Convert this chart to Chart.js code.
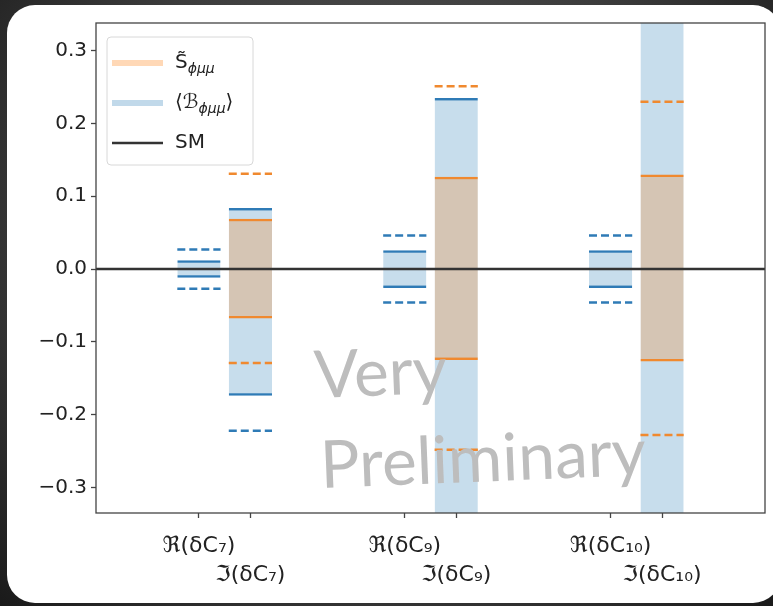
<!DOCTYPE html>
<html>
<head>
<meta charset="utf-8">
<script src="https://cdn.jsdelivr.net/npm/chart.js@4.4.1/dist/chart.umd.min.js"></script>
<style>
  html, body { margin: 0; padding: 0; }
  body {
    width: 773px; height: 606px; overflow: hidden; position: relative;
    background: radial-gradient(ellipse at 50% 40%, #5e5e5e 0%, #3c3c3c 60%, #1a1a1a 100%);
  }
  .card {
    position: absolute; left: 7px; top: 5px; width: 774px; height: 598px;
    background: #fff; border-radius: 28px;
  }
  .wrap { position: absolute; left: 0; top: 0; width: 773px; height: 606px; }
</style>
</head>
<body>
<div class="card"></div>
<div class="wrap"><canvas id="couplingChart"></canvas></div>
<script>
// real part sits on the integer, imaginary part a quarter to the right
const xTickPos = [0, 0.25, 1, 1.25, 2, 2.25];
const xTickLabels = ['ℜ(δC₇)', ['', 'ℑ(δC₇)'], 'ℜ(δC₉)', ['', 'ℑ(δC₉)'], 'ℜ(δC₁₀)', ['', 'ℑ(δC₁₀)']];
const yTicks = [-0.3, -0.2, -0.1, 0, 0.1, 0.2, 0.3];

// <B> : inner band edges and outer (dashed) edges per tick position
const bLow   = [-0.012, -0.174, -0.026, -0.45,  -0.026, -0.45];
const bHigh  = [ 0.012,  0.084,  0.026,  0.235,  0.026,  0.45];
const bLow2  = [-0.027, -0.222, -0.046,  null,  -0.046,  null];
const bHigh2 = [ 0.027,  null,   0.046,  null,   0.046,  null];

// S~ : only the imaginary parts
const sPos   = [0.25, 1.25, 2.25];
const sLow   = [-0.068, -0.125, -0.127];
const sHigh  = [ 0.069,  0.127,  0.130];
const sLow2  = [-0.129, -0.248, -0.228];
const sHigh2 = [ 0.131,  0.251,  0.230];

const smValue = 0;
const xRange = [-0.5, 2.75];
const yRange = [-0.335, 0.338];

const barWidth = 0.21;
const blue = '#2f7bb6', orange = '#f0892f';

function bandData(pos, lo, hi) {
  return pos.map((p, i) => ({ x: p, y: [lo[i], hi[i]] }));
}

// short horizontal dashes spanning one bar, separated by gaps
function dashSegments(pos, values) {
  const pts = [];
  pos.forEach((p, i) => {
    if (values[i] === null) return;
    pts.push({ x: p - barWidth / 2, y: values[i] }, { x: p + barWidth / 2, y: values[i] }, { x: p, y: null });
  });
  return pts;
}

const bandStyle = {
  grouped: false,
  barPercentage: barWidth / 0.25,
  categoryPercentage: 1,
  borderWidth: { top: 2.5, bottom: 2.5, left: 0, right: 0 },
  borderSkipped: false
};

const legendItems = [
  { pre: 'S\u0303', sub: 'ϕμμ', post: '', color: 'rgba(255,127,14,0.3)', lw: 6 },
  { pre: '⟨ℬ', sub: 'ϕμμ', post: '⟩', color: 'rgba(31,119,180,0.28)', lw: 6 },
  { pre: 'SM', sub: '', post: '', color: '#333', lw: 2.5 }
];

const mathLegend = {
  id: 'mathLegend',
  afterDraw(chart) {
    const ctx = chart.ctx, a = chart.chartArea;
    const x0 = a.left + 11, y0 = a.top + 14, w = 146, h = 128;
    ctx.save();
    ctx.beginPath();
    ctx.roundRect(x0, y0, w, h, 4);
    ctx.fillStyle = 'rgba(255,255,255,0.8)';
    ctx.fill();
    ctx.strokeStyle = '#d8d8d8';
    ctx.lineWidth = 1;
    ctx.stroke();
    legendItems.forEach((item, i) => {
      const y = y0 + 26 + i * 40;
      ctx.beginPath();
      ctx.moveTo(x0 + 5, y);
      ctx.lineTo(x0 + 56, y);
      ctx.strokeStyle = item.color;
      ctx.lineWidth = item.lw;
      ctx.stroke();
      let tx = x0 + 68;
      ctx.fillStyle = '#222';
      ctx.textAlign = 'left';
      ctx.textBaseline = 'middle';
      ctx.font = '20px "DejaVu Sans"';
      ctx.fillText(item.pre, tx, y);
      tx += ctx.measureText(item.pre).width;
      if (item.sub) {
        ctx.font = 'italic 14px "DejaVu Sans"';
        ctx.fillText(item.sub, tx, y + 6);
        tx += ctx.measureText(item.sub).width;
      }
      if (item.post) {
        ctx.font = '20px "DejaVu Sans"';
        ctx.fillText(item.post, tx, y);
      }
    });
    ctx.restore();
  }
};

// spines on all four sides
const frame = {
  id: 'frame',
  afterDatasetsDraw(chart) {
    const { ctx, chartArea: a } = chart;
    ctx.save();
    ctx.strokeStyle = '#444';
    ctx.lineWidth = 1.3;
    ctx.strokeRect(a.left, a.top, a.right - a.left, a.bottom - a.top);
    ctx.restore();
  }
};

const watermark = {
  id: 'watermark',
  afterDatasetsDraw(chart) {
    const ctx = chart.ctx;
    ctx.save();
    ctx.fillStyle = '#bdbdbd';
    ctx.font = '66px Lato';
    ctx.textAlign = 'left';
    ctx.textBaseline = 'alphabetic';
    [['Very', 315, 398], ['Preliminary', 321, 488]].forEach(([t, x, y]) => {
      ctx.save();
      ctx.translate(x, y);
      ctx.rotate(-0.04);
      ctx.fillText(t, 0, 0);
      ctx.restore();
    });
    ctx.restore();
  }
};

new Chart(document.getElementById('couplingChart'), {
  type: 'bar',
  data: {
    datasets: [
      {
        type: 'line',
        label: 'SM',
        data: [{ x: xRange[0], y: smValue }, { x: xRange[1], y: smValue }],
        borderColor: '#333',
        borderWidth: 2.5,
        pointRadius: 0,
        order: 0
      },
      {
        type: 'line',
        label: 'S 2σ',
        data: dashSegments(sPos, sHigh2).concat(dashSegments(sPos, sLow2)),
        borderColor: orange,
        borderWidth: 2.5,
        borderDash: [8, 4],
        pointRadius: 0,
        spanGaps: false,
        order: 1
      },
      {
        type: 'line',
        label: 'B 2σ',
        data: dashSegments(xTickPos, bHigh2).concat(dashSegments(xTickPos, bLow2)),
        borderColor: blue,
        borderWidth: 2.5,
        borderDash: [8, 4],
        pointRadius: 0,
        spanGaps: false,
        order: 2
      },
      Object.assign({
        label: 'S̃ϕμμ',
        data: bandData(sPos, sLow, sHigh),
        backgroundColor: 'rgba(255,127,14,0.25)',
        borderColor: orange,
        order: 3
      }, bandStyle),
      Object.assign({
        label: '⟨ℬϕμμ⟩',
        data: bandData(xTickPos, bLow, bHigh),
        backgroundColor: 'rgba(31,119,180,0.25)',
        borderColor: blue,
        order: 4
      }, bandStyle)
    ]
  },
  options: {
    responsive: true,
    maintainAspectRatio: false,
    animation: false,
    layout: { padding: { top: 23, right: 8, left: 0, bottom: 0 } },
    plugins: {
      legend: { display: false },
      tooltip: { enabled: false }
    },
    scales: {
      x: {
        type: 'linear',
        offset: false,
        min: xRange[0],
        max: xRange[1],
        afterBuildTicks: scale => { scale.ticks = xTickPos.map(v => ({ value: v })); },
        afterFit: scale => { scale.height = 93; },
        border: { display: false },
        grid: { offset: false, drawOnChartArea: false, drawTicks: true, tickLength: 5, tickColor: '#444', tickWidth: 1.3 },
        ticks: {
          autoSkip: false,
          maxRotation: 0,
          padding: 14,
          color: '#222',
          font: { family: 'DejaVu Sans', size: 22, lineHeight: 1.3 },
          callback: (v, i) => xTickLabels[i]
        }
      },
      y: {
        min: yRange[0],
        max: yRange[1],
        afterBuildTicks: scale => { scale.ticks = yTicks.map(v => ({ value: v })); },
        afterFit: scale => { scale.width = 96; },
        border: { display: false },
        grid: { drawOnChartArea: false, drawTicks: true, tickLength: 5, tickColor: '#444', tickWidth: 1.3 },
        ticks: {
          padding: 4,
          color: '#222',
          font: { family: 'DejaVu Sans', size: 20 },
          callback: v => (v < 0 ? '\u2212' : '') + Math.abs(v).toFixed(1)
        }
      }
    }
  },
  plugins: [frame, watermark, mathLegend]
});
</script>
</body>
</html>
